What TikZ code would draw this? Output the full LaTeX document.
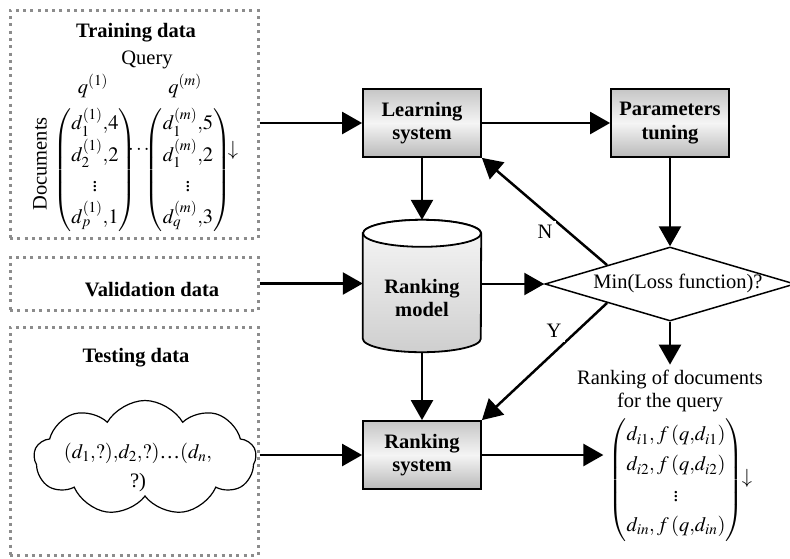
\documentclass[tikz,border=0pt]{standalone}
\usepackage{amsmath}
\usepackage{mathptmx}
\usepackage{fontspec}
\setmainfont{Liberation Serif}
\usetikzlibrary{shapes.geometric,shapes.symbols,arrows.meta,calc}
\newcommand{\fsz}{\fontsize{20.5}{23.5}\selectfont}
\tikzset{
  dotbox/.style={draw=black!45, line width=3pt, dash pattern=on 3pt off 4.3pt, minimum width=248pt, inner sep=0pt},
  procbox/.style={draw, line width=1.8pt, minimum width=118pt, minimum height=68pt, top color=gray!45, bottom color=gray!55, middle color=gray!8, font=\fsz\bfseries, align=center, inner sep=2pt},
  arr/.style={line width=2.5pt, -{Triangle[length=20pt,width=22pt]}},
  txt/.style={font=\fsz, inner sep=1pt},
  btxt/.style={font=\fsz\bfseries, inner sep=1pt, align=center},
  lbl/.style={font=\fsz, fill=white, inner sep=4pt}
}
\begin{document}
\begin{tikzpicture}[x=1pt,y=-1pt,font=\fsz]
\useasboundingbox (0,0) rectangle (790,558);
% dotted input boxes
\node[dotbox, minimum height=228pt] (train) at (134,124) {};
\node[dotbox, minimum height=53pt] (val) at (134,283.5) {};
\node[dotbox, minimum height=228pt] (test) at (134,441) {};
% training contents
\node[btxt] (trtitle) at (136,33) {Training data};
\node[txt] (query) at (147,60) {Query};
\node[txt] (q1) at (93,86) {$q^{(1)}$};
\node[txt] (qm) at (185,86) {$q^{(m)}$};
\node[txt, rotate=90] (docs) at (40,164) {Documents};
{\renewcommand{\arraystretch}{1.3}
\node[txt, inner sep=0pt] (m1) at (95,170) {$\begin{pmatrix} d_1^{(1)}{,}4 \\ d_2^{(1)}{,}2 \\ \vdots \\ d_p^{(1)}{,}1 \end{pmatrix}$};
\node[txt, inner sep=0pt] (m2) at (188,170) {$\begin{pmatrix} d_1^{(m)}{,}5 \\ d_1^{(m)}{,}2 \\ \vdots \\ d_q^{(m)}{,}3 \end{pmatrix}$};
}
\node[txt] (mdots) at (140,150) {$\cdots$};
\node[txt] (marr) at (233,150) {$\downarrow$};
% validation / testing titles
\node[btxt] (valtxt) at (152,290) {Validation data};
\node[btxt] (testtxt) at (136,358) {Testing data};
\node[cloud, cloud puffs=9, cloud puff arc=120, aspect=2, draw, line width=1.2pt, minimum width=222pt, minimum height=115pt, inner sep=0pt] (cloud) at (145,458) {};
\node[txt, align=center, font={\fontsize{20.5}{29}\selectfont}] (cloudtxt) at (138,467) {$(d_1{,}?){,}d_2{,}?)$…$(d_n{,}$\\?)};
% process boxes
\node[procbox] (learn) at (422,123) {Learning\\system};
\node[procbox] (param) at (670,123) {Parameters\\tuning};
\node[procbox] (rs) at (422,455) {Ranking\\system};
% cylinder
\node[minimum width=118pt, minimum height=132pt, inner sep=0pt] (rm) at (422,286) {};
\path[draw, line width=1.8pt, top color=gray!6, bottom color=gray!38]
  ($(rm.north west)+(0,13.5)$) -- ($(rm.south west)+(0,-13.5)$)
  arc[start angle=180, end angle=360, x radius=59pt, y radius=13.5pt]
  -- ($(rm.north east)+(0,13.5)$)
  arc[start angle=0, end angle=180, x radius=59pt, y radius=13.5pt] -- cycle;
\draw[line width=1.8pt, fill=white] ($(rm.north)+(0,13.5)$) ellipse[x radius=59pt, y radius=13.5pt];
\node[btxt] (rmtxt) at (422,298) {Ranking\\model};
% decision
\node[diamond, draw, line width=1.5pt, minimum width=250pt, minimum height=74pt, inner sep=0pt, aspect=3.4] (dia) at (670,284) {};
\node[txt] (diatxt) at (678,283) {Min(Loss function)?};
% output
\node[txt, align=center, inner sep=5pt] (ranktxt) at (670,391) {Ranking of documents\\for the query};
{\renewcommand{\arraystretch}{1.28}
\node[txt, inner sep=5pt] (outm) at (676,480) {$\begin{pmatrix} d_{i1}{,}\, f\,(q{,}d_{i1}) \\ d_{i2}{,}\, f\,(q{,}d_{i2}) \\ \vdots \\ d_{in}{,}\, f\,(q{,}d_{in}) \end{pmatrix}$};
}
\node[txt] (outarr) at (747,478) {$\downarrow$};
% connectors
\draw[arr] (train.east |- learn.west) -- (learn.west);
\draw[arr] (learn.east) -- (param.west);
\draw[arr] (learn.south) -- (rm.north);
\draw[arr] (param.south) -- (dia.north);
\draw[arr] (val.east) -- (val.east -| rm.west);
\draw[arr] (rm.east |- dia.west) -- (dia.west);
\draw[arr] (dia.north west) -- (learn.south east);
\draw[arr] (dia.south west) -- (rs.north east);
\node[lbl] (nlab) at (545,232) {N};
\node[lbl] (ylab) at (554,331) {Y};
\draw[arr] (dia.south) -- (ranktxt.north);
\draw[arr] (rm.south) -- (rs.north);
\draw[arr] (test.east |- rs.west) -- (rs.west);
\draw[arr] (rs.east) -- (rs.east -| outm.west);
\end{tikzpicture}
\end{document}
